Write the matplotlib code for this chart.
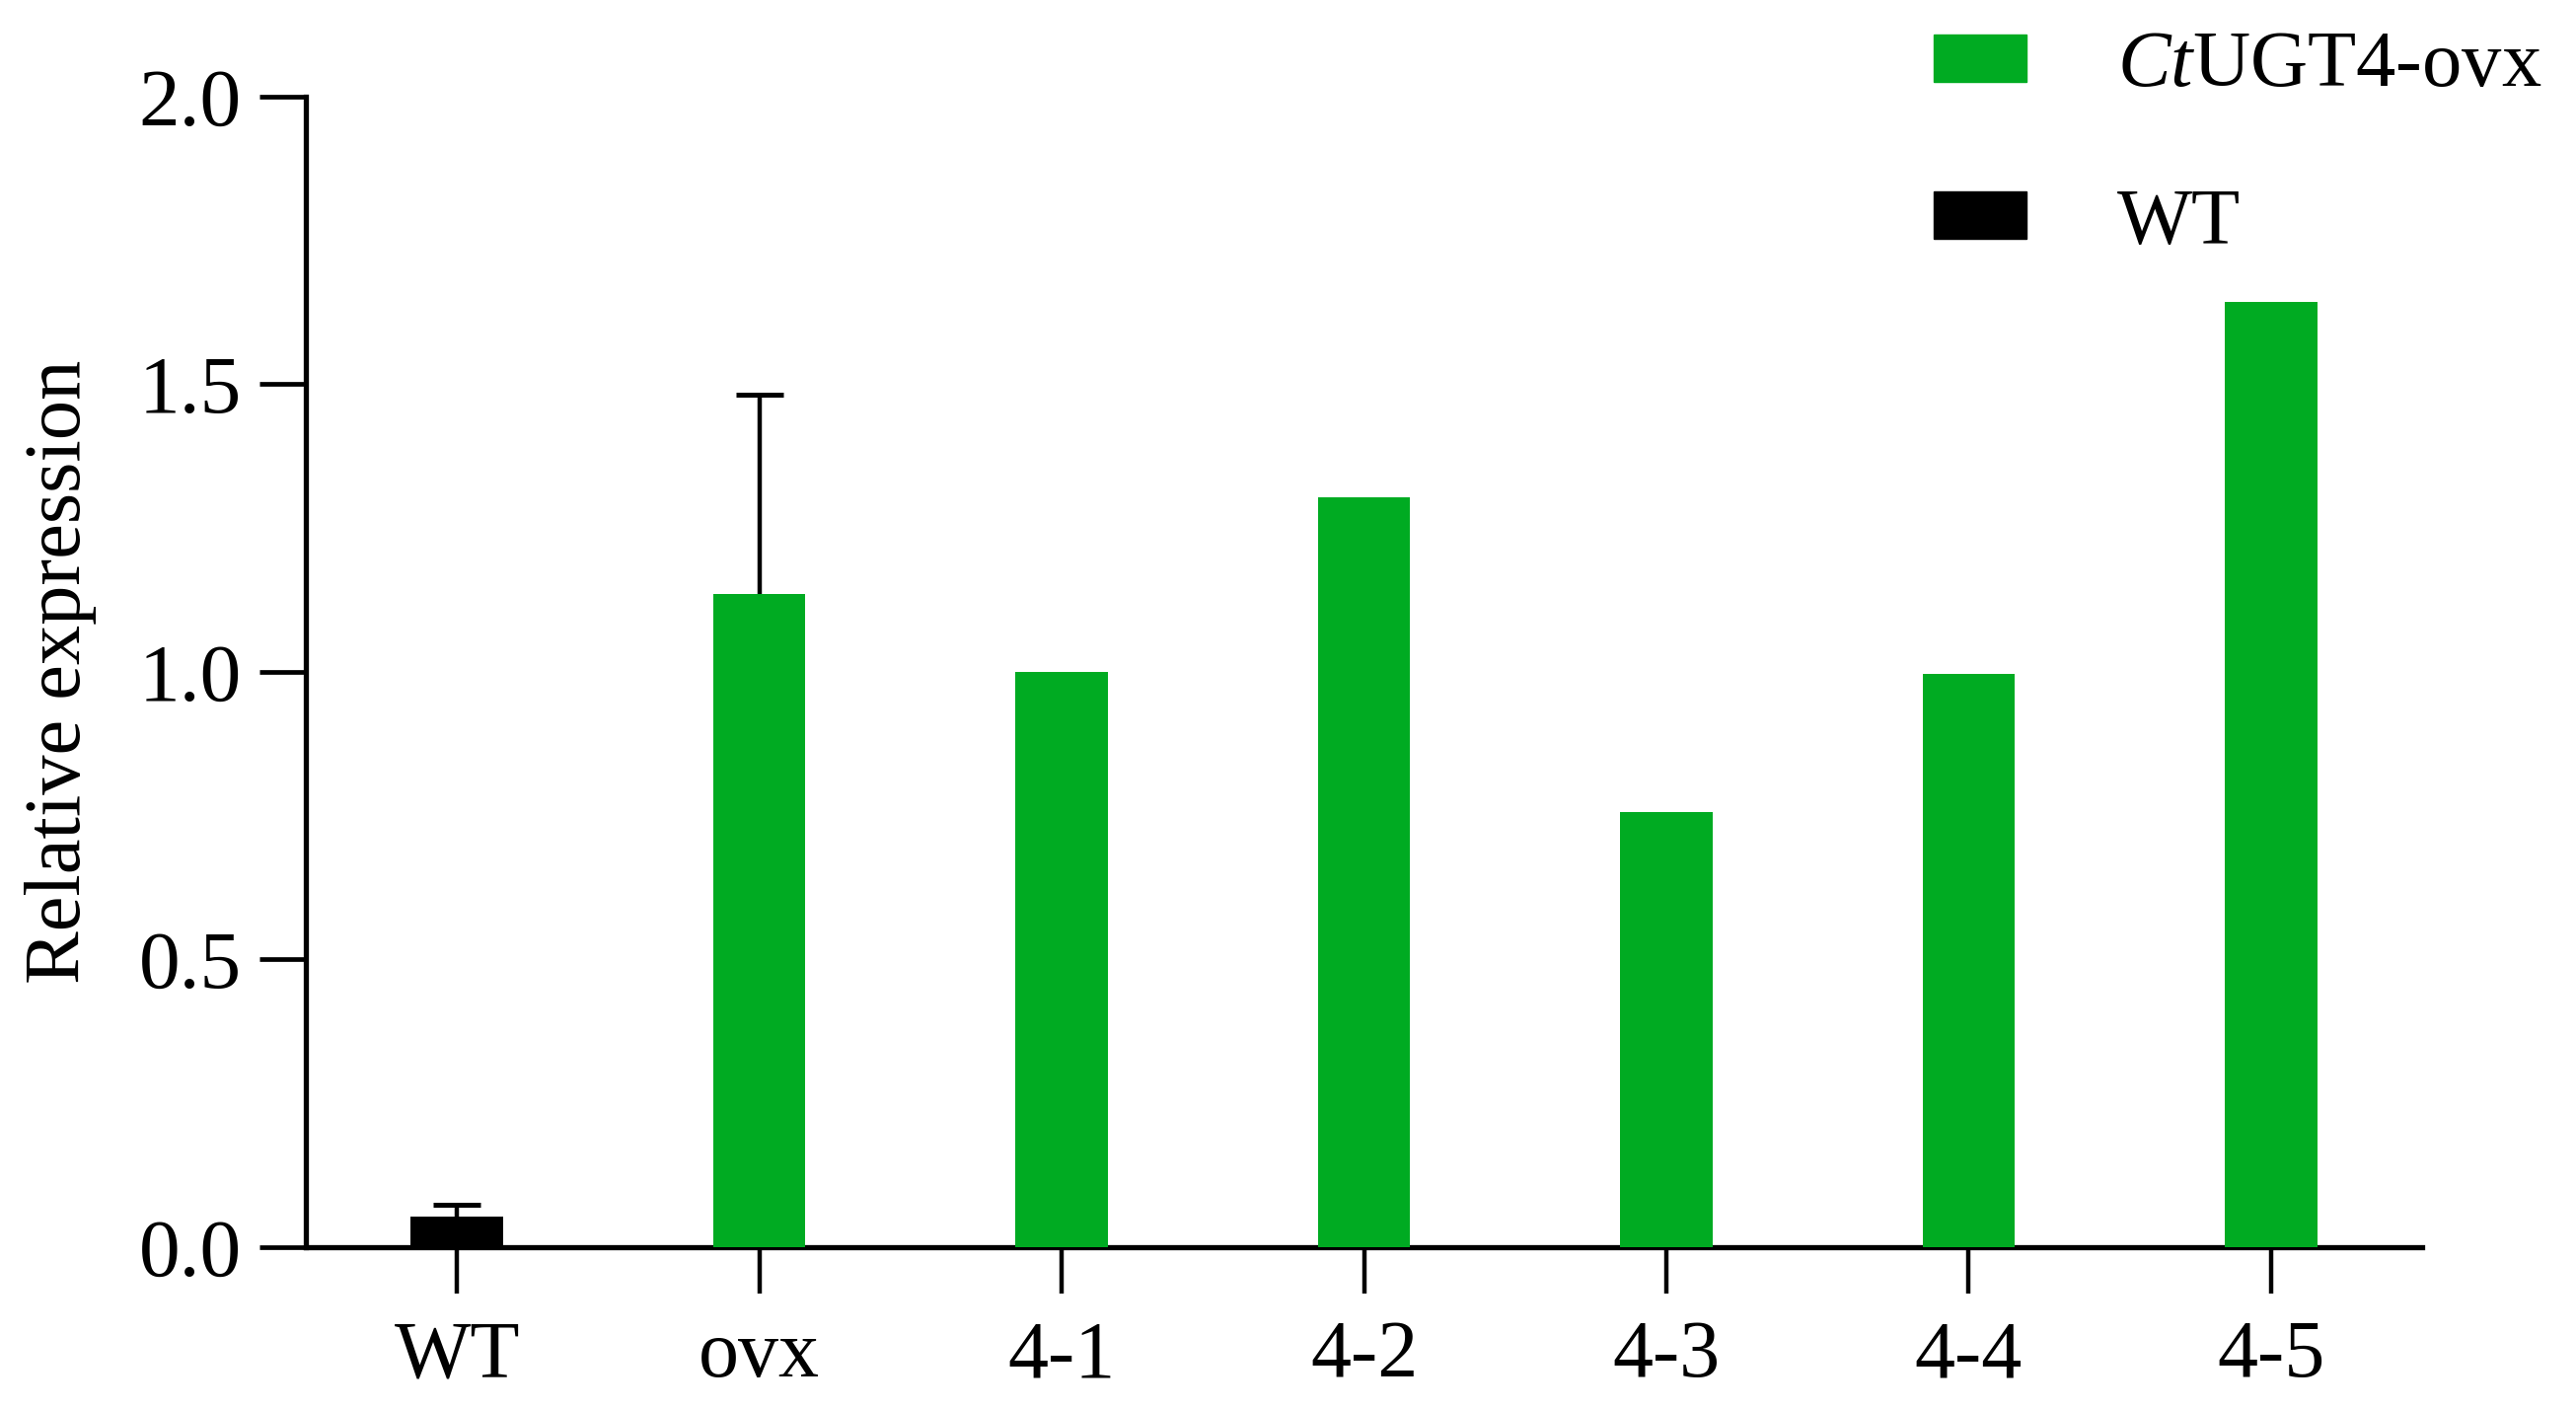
import matplotlib
matplotlib.use("Agg")
import matplotlib.pyplot as plt
from matplotlib.patches import Patch

plt.rcParams["font.family"] = ["Liberation Serif", "DejaVu Serif"]
plt.rcParams["mathtext.fontset"] = "custom"
plt.rcParams["mathtext.rm"] = "Liberation Serif"
plt.rcParams["mathtext.it"] = "Liberation Serif:italic"

# data
groups = ["WT", "ovx", "4-1", "4-2", "4-3", "4-4", "4-5"]
expression = [0.053, 1.136, 1.0, 1.303, 0.757, 0.997, 1.642]
error_up = [0.021, 0.346, 0, 0, 0, 0, 0]
y_ticks = [0.0, 0.5, 1.0, 1.5, 2.0]
y_tick_labels = ["0.0", "0.5", "1.0", "1.5", "2.0"]

green = "#00AB22"
colors = ["black"] + [green] * (len(groups) - 1)

fig = plt.figure(figsize=(26.11, 14.28), dpi=100)
ax = fig.add_axes([0.1187, 0.1148, 0.8216, 0.8168])

x = list(range(len(groups)))
ax.bar(x, expression, width=0.305, color=colors, zorder=3)

# error bars (upper only, as in the original)
err_x = [i for i in x if error_up[i] > 0]
err_tops = [expression[i] for i in err_x]
_, caps, _ = ax.errorbar(
    err_x,
    err_tops,
    yerr=[[0] * len(err_x), [error_up[i] for i in err_x]],
    fmt="none",
    ecolor="black",
    elinewidth=3.2,
    capsize=17,
    capthick=3.6,
    zorder=2,
)
# drop the cap sitting on the bar top
for cap in caps:
    if list(cap.get_ydata()) == err_tops:
        cap.set_visible(False)

ax.set_xlim(-0.5, len(groups) - 0.5)
ax.set_ylim(0, 2.0)
ax.set_yticks(y_ticks)
ax.set_yticklabels(y_tick_labels)
ax.set_xticks(x)
ax.set_xticklabels(groups)

for side in ["top", "right"]:
    ax.spines[side].set_visible(False)
for side in ["left", "bottom"]:
    ax.spines[side].set_linewidth(3.8)

ax.tick_params(axis="x", length=34, width=3.2, pad=19, labelsize=59)
ax.tick_params(axis="y", length=34, width=3.4, pad=13, labelsize=60)

ax.set_ylabel("Relative expression", fontsize=58)
ax.yaxis.label.set_va("center")
ax.yaxis.set_label_coords(-0.1156, 0.5)

handles = [Patch(color=green), Patch(color="black")]
labels = [r"$\mathit{Ct}$UGT4-ovx", "WT"]
fig.legend(
    handles,
    labels,
    loc="upper left",
    bbox_to_anchor=(0.7507, 0.978),
    frameon=False,
    fontsize=58,
    handlelength=1.16,
    handleheight=0.54,
    handletextpad=1.15,
    labelspacing=1.07,
    borderpad=0,
    borderaxespad=0,
)

fig.savefig("out.png", dpi=100, facecolor="white")
